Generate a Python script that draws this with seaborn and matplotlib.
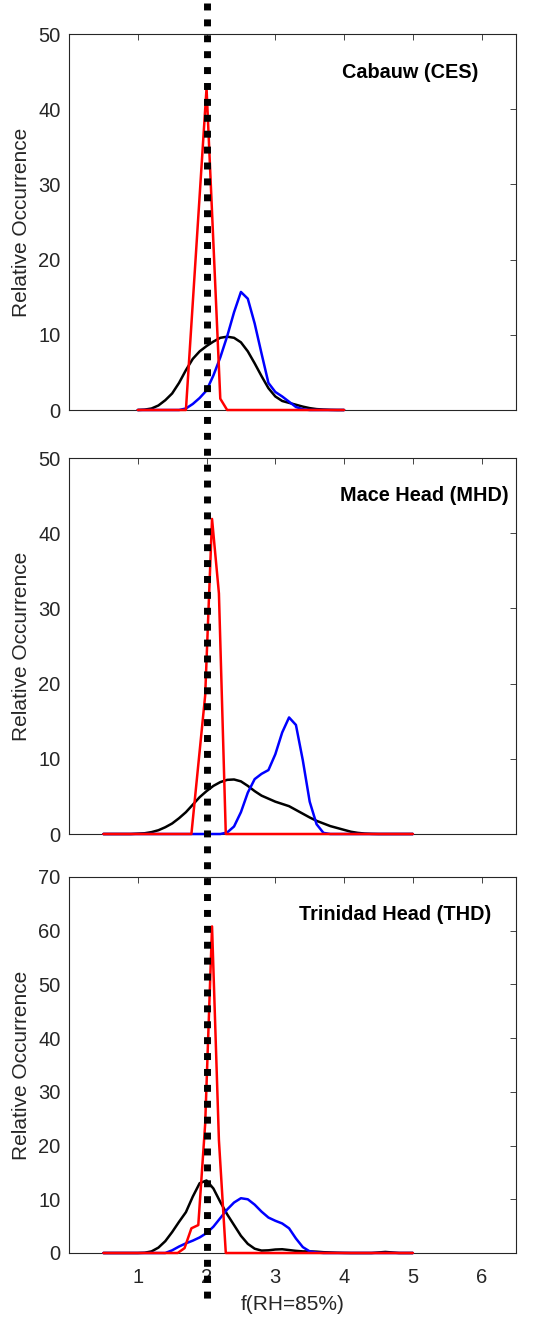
import numpy as np
import pandas as pd
import matplotlib
matplotlib.use("Agg")
import matplotlib.pyplot as plt
from matplotlib.lines import Line2D
import seaborn as sns

sns.set_theme(style="white")
plt.rcParams["font.family"] = ["Liberation Sans", "DejaVu Sans"]

# ---- data -------------------------------------------------------------
reference_f = 2.0

f_ces = [1.0, 1.1, 1.2, 1.3, 1.4, 1.5, 1.6, 1.7, 1.8, 1.9, 2.0, 2.1, 2.2, 2.3, 2.4, 2.5,
         2.6, 2.7, 2.8, 2.9, 3.0, 3.1, 3.2, 3.3, 3.4, 3.5, 3.6, 3.7, 3.8, 3.9, 4.0]
ces_black = [0, 0.05, 0.2, 0.6, 1.3, 2.2, 3.6, 5.3, 6.8, 7.8, 8.5, 9.1, 9.6, 9.75, 9.6, 9.0,
             7.8, 6.2, 4.5, 2.9, 1.8, 1.2, 0.95, 0.7, 0.45, 0.25, 0.12, 0.06, 0.02, 0, 0]
ces_blue = [0, 0, 0, 0, 0, 0, 0, 0.2, 0.8, 1.6, 2.6, 4.6, 7.0, 9.8, 13.0, 15.7,
            14.8, 11.5, 7.5, 3.6, 2.4, 1.8, 1.1, 0.4, 0.1, 0, 0, 0, 0, 0, 0]
ces_red_f = [1.0, 1.7, 2.0, 2.2, 2.3, 4.0]
ces_red = [0, 0, 42.8, 1.5, 0, 0]

f_wide = [0.5, 0.6, 0.7, 0.8, 0.9, 1.0, 1.1, 1.2, 1.3, 1.4, 1.5, 1.6, 1.7, 1.8, 1.9, 2.0,
          2.1, 2.2, 2.3, 2.4, 2.5, 2.6, 2.7, 2.8, 2.9, 3.0, 3.1, 3.2, 3.3, 3.4, 3.5, 3.6,
          3.7, 3.8, 3.9, 4.0, 4.1, 4.2, 4.3, 4.4, 4.5, 4.6, 4.7, 4.8, 4.9, 5.0]
mhd_black = [0, 0, 0, 0, 0, 0.05, 0.1, 0.25, 0.5, 0.9, 1.4, 2.1, 2.9, 3.9, 4.9, 5.7,
             6.4, 6.9, 7.2, 7.25, 7.0, 6.4, 5.7, 5.1, 4.7, 4.3, 4.0, 3.7, 3.2, 2.7, 2.2, 1.75,
             1.4, 1.05, 0.8, 0.55, 0.3, 0.15, 0.06, 0.02, 0, 0, 0, 0, 0, 0]
mhd_blue = [0, 0, 0, 0, 0, 0, 0, 0, 0, 0, 0, 0, 0, 0, 0, 0,
            0, 0, 0.2, 1.0, 2.9, 5.5, 7.3, 8.0, 8.5, 10.6, 13.5, 15.5, 14.5, 9.8, 4.3, 1.3,
            0.15, 0, 0, 0, 0, 0, 0, 0, 0, 0, 0, 0, 0, 0]
mhd_red_f = [0.5, 1.78, 1.98, 2.08, 2.18, 2.28, 5.0]
mhd_red = [0, 0, 18.4, 41.9, 32.0, 0, 0]

thd_black = [0, 0, 0, 0, 0, 0, 0.05, 0.3, 1.0, 2.2, 3.9, 5.8, 7.6, 10.5, 13.0, 13.5,
             12.0, 9.5, 7.2, 5.2, 3.2, 1.7, 0.8, 0.45, 0.5, 0.65, 0.7, 0.55, 0.4, 0.3, 0.3, 0.25,
             0.15, 0.1, 0.05, 0.02, 0, 0, 0, 0, 0.1, 0.2, 0.1, 0, 0, 0]
thd_blue = [0, 0, 0, 0, 0, 0, 0, 0, 0, 0, 0.5, 1.2, 1.8, 2.3, 2.9, 3.7,
            4.9, 6.5, 8.1, 9.4, 10.2, 10.0, 9.0, 7.7, 6.6, 6.0, 5.5, 4.6, 2.7, 1.1, 0.3, 0.1,
            0, 0, 0, 0, 0, 0, 0, 0, 0, 0, 0, 0, 0, 0]
thd_red_f = [0.5, 1.58, 1.68, 1.78, 1.88, 1.98, 2.08, 2.18, 2.28, 5.0]
thd_red = [0, 0, 0.9, 4.6, 5.2, 24.0, 60.8, 21.0, 0, 0]

site_names = ["Cabauw (CES)", "Mace Head (MHD)", "Trinidad Head (THD)"]
y_tops = [50, 50, 70]
x_ticks = [1, 2, 3, 4, 5, 6]


def site_frame(f_main, black, blue, f_red, red):
    parts = [
        pd.DataFrame({"f": f_main, "occ": black, "kind": "black"}),
        pd.DataFrame({"f": f_main, "occ": blue, "kind": "blue"}),
        pd.DataFrame({"f": f_red, "occ": red, "kind": "red"}),
    ]
    return pd.concat(parts, ignore_index=True)


frames = [
    site_frame(f_ces, ces_black, ces_blue, ces_red_f, ces_red),
    site_frame(f_wide, mhd_black, mhd_blue, mhd_red_f, mhd_red),
    site_frame(f_wide, thd_black, thd_blue, thd_red_f, thd_red),
]

# ---- layout -----------------------------------------------------------
W, H = 538, 1326
fig = plt.figure(figsize=(W / 100, H / 100), dpi=100)
fig.patch.set_facecolor("white")

ax_left, ax_w, ax_h = 69 / W, 447 / W, 376 / H
ax_bottoms = [1 - 410 / H, 1 - 834 / H, 1 - 1253 / H]
title_pos = [(0.915, 0.897), (0.984, 0.899), (0.944, 0.899)]
edge = "#262626"
palette = {"black": "#000000", "blue": "#0000ff", "red": "#ff0000"}

axes = []
for i, df in enumerate(frames):
    ax = fig.add_axes([ax_left, ax_bottoms[i], ax_w, ax_h])
    sns.lineplot(data=df, x="f", y="occ", hue="kind", palette=palette,
                 hue_order=["black", "blue", "red"], estimator=None, sort=False,
                 linewidth=1.8, legend=False, ax=ax)
    # curves sit on top of the axis box and are not clipped at the zero line
    for k, ln in enumerate(ax.lines):
        ln.set_clip_on(False)
        ln.set_zorder(3 + k)
    ax.set_xlim(0, 6.5)
    ax.set_ylim(0, y_tops[i])
    ax.set_xticks(x_ticks)
    ax.set_yticks(np.arange(0, y_tops[i] + 1, 10))
    ax.tick_params(direction="in", length=4, width=0.6, top=True, right=True,
                   color=edge, labelcolor=edge, labelsize=14.5)
    ax.tick_params(axis="x", pad=11)
    ax.tick_params(axis="y", pad=6)
    for s in ax.spines.values():
        s.set_color(edge)
        s.set_linewidth(0.8)
    ax.set_ylabel("Relative Occurrence", fontsize=15, color=edge)
    ax.yaxis.set_label_coords(-0.085, 0.5)
    ax.set_xlabel("")
    ax.text(title_pos[i][0], title_pos[i][1], site_names[i], transform=ax.transAxes,
            ha="right", va="center", fontsize=14.3, fontweight="bold", color="black")
    if i < 2:
        ax.tick_params(axis="x", labelbottom=False)
    axes.append(ax)

axes[-1].set_xlabel("f(RH=85%)", fontsize=15, color=edge)
axes[-1].xaxis.set_label_coords(0.5, -0.112)

# dotted reference line crossing all panels at f = 2
px = axes[-1].transData.transform((reference_f, 0))
xf = fig.transFigure.inverted().transform(px)[0]
ref_line = Line2D([xf, xf], [1 - 3 / H, 1 - 1306 / H], transform=fig.transFigure,
                  color="black", linewidth=5.0, linestyle=(0, (1.0, 1.29)),
                  dash_capstyle="butt", zorder=10)
fig.add_artist(ref_line)

fig.savefig("out.png", dpi=100, facecolor="white")
